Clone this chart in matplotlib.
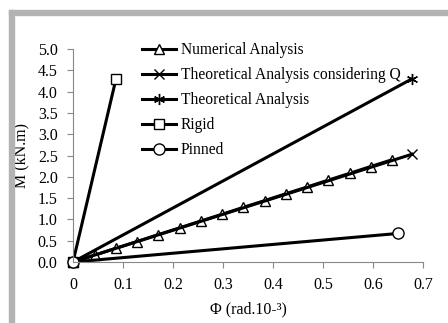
import matplotlib.pyplot as plt
from matplotlib.patches import Rectangle

plt.rcParams['font.family'] = ['Liberation Serif', 'DejaVu Serif']

# datos
phi_num = [0, 0.043, 0.085, 0.128, 0.17, 0.213, 0.255, 0.298, 0.34,
           0.383, 0.425, 0.468, 0.51, 0.553, 0.595, 0.638]
m_num = [0, 0.16, 0.32, 0.48, 0.64, 0.80, 0.96, 1.12, 1.28,
         1.44, 1.60, 1.76, 1.92, 2.08, 2.24, 2.40]
phi_q = [0, 0.678]
m_q = [0, 2.53]
phi_teo = [0, 0.678]
m_teo = [0, 4.30]
phi_rig = [0, 0.086]
m_rig = [0, 4.30]
phi_pin = [0, 0.65]
m_pin = [0, 0.67]

xticks = [0, 0.1, 0.2, 0.3, 0.4, 0.5, 0.6, 0.7]
xticklabels = ["0", "0.1", "0.2", "0.3", "0.4", "0.5", "0.6", "0.7"]
yticks = [0, 0.5, 1, 1.5, 2, 2.5, 3, 3.5, 4, 4.5, 5]

fig = plt.figure(figsize=(4.48, 3.23), dpi=100)
ax = fig.add_axes([73/448, 1 - 262/323, 350/448, 213/323])

# marco gris
fig.patches.append(Rectangle((9/448, 1 - 15/323), 1, 5/323, transform=fig.transFigure,
                             color="#b3b3b3", zorder=0))
fig.patches.append(Rectangle((9/448, 0), 5/448, 1 - 10/323, transform=fig.transFigure,
                             color="#b3b3b3", zorder=0))

lw = 2.2
mk = dict(markerfacecolor="white", markeredgecolor="black", markeredgewidth=1, color="black",
          linewidth=lw, clip_on=False)
ax.plot(phi_num, m_num, marker="^", markersize=7, label="Numerical Analysis", **mk)
ax.plot(phi_q, m_q, marker="x", markersize=7, label="Theoretical Analysis considering Q", **mk)
ax.plot(phi_teo, m_teo, marker=(6, 2, 0), markersize=8, label="Theoretical Analysis", **mk)
ax.plot(phi_rig, m_rig, marker="s", markersize=7, label="Rigid", **mk)
ax.plot(phi_pin, m_pin, marker="o", markersize=8, label="Pinned", **mk)

ax.set_xlim(0, 0.7)
ax.set_ylim(0, 5)
ax.set_xticks(xticks)
ax.set_xticklabels(xticklabels)
ax.set_yticks(yticks)
ax.set_yticklabels([f"{v:.1f}" for v in yticks])
ax.tick_params(labelsize=11.5, color="#888888", length=4, width=0.8, pad=7)
for s in ["top", "right"]:
    ax.spines[s].set_visible(False)
for s in ["left", "bottom"]:
    ax.spines[s].set_color("#888888")
    ax.spines[s].set_linewidth(0.8)

ax.set_xlabel("Φ (rad.10-³)", fontsize=11.5, labelpad=6)
ax.set_ylabel("M (kN.m)", fontsize=11.5, labelpad=6)

ax.legend(loc="upper left", bbox_to_anchor=(142/448, 1 - 42/323), bbox_transform=fig.transFigure,
          frameon=False, fontsize=11.2, handlelength=2.2, handletextpad=0.3,
          labelspacing=0.58, borderpad=0, borderaxespad=0)

fig.savefig("out.png", dpi=100)
